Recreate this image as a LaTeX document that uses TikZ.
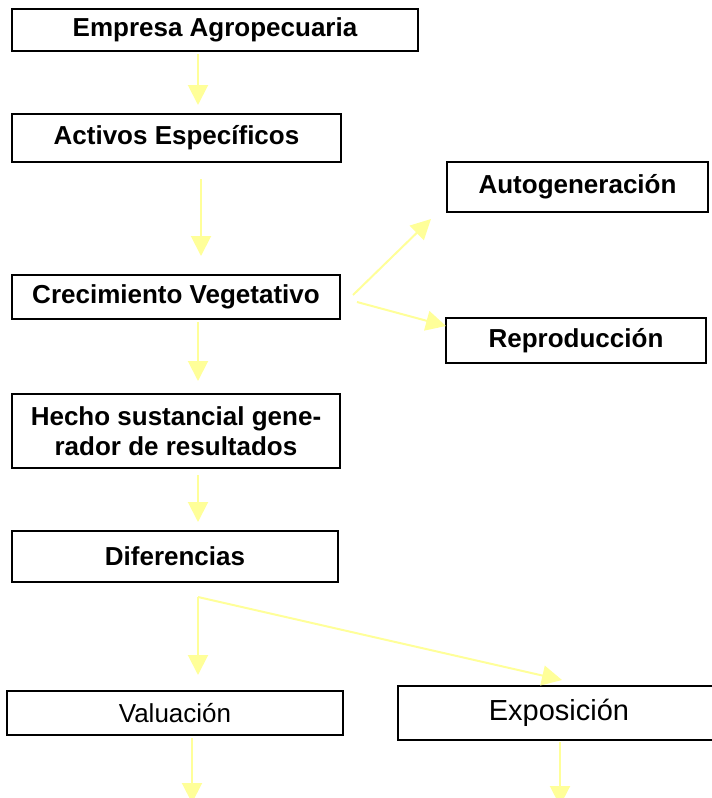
\documentclass[tikz,border=0pt]{standalone}
\usepackage{fontspec}
\setmainfont{Liberation Sans}
\usetikzlibrary{arrows.meta,positioning}
\definecolor{amarillo}{RGB}{255,255,153}

\begin{document}
\begin{tikzpicture}[x=0.5pt, y=-0.5pt,
		caja/.style={rectangle, draw, line width=1pt, inner sep=0pt, outer sep=0pt, minimum height=22pt, font=\fontsize{13}{15}\selectfont\bfseries, align=center, anchor=north west},
		cajan/.style={rectangle, draw, line width=0.8pt, inner sep=0pt, outer sep=0pt, minimum height=22pt, align=center, anchor=north west},
		flecha/.style={-{Triangle[length=10pt, width=10pt]}, line width=1pt, amarillo}]
		\clip (0,0) rectangle (712,798);
		\node[caja, minimum width=203pt, minimum height=21pt] (empresa) at (12,9) {Empresa Agropecuaria};
		\node[caja, minimum width=164.5pt, minimum height=24pt, below=31.5pt of empresa.south west, anchor=north west] (activos) {Activos Específicos};
		\node[caja, minimum width=164pt, minimum height=22pt, below=56.5pt of activos.south west, anchor=north west] (crec) {Crecimiento Vegetativo};
		\node[caja, minimum width=164pt, minimum height=37pt, below=37.5pt of crec.south west, anchor=north west] (hecho) {Hecho sustancial gene-\\rador de resultados};
		\node[caja, minimum width=163pt, minimum height=25.5pt, below=31.5pt of hecho.south west, anchor=north west] (dif) {Diferencias};
		\node[cajan, minimum width=168pt, minimum height=22pt, font=\fontsize{13}{15}\selectfont, below=54.5pt of dif.south west, anchor=north west, xshift=-2.5pt] (valua) {Valuación};
		\node[caja, minimum width=130.5pt, minimum height=25pt] (auto) at (447,162) {Autogeneración};
		\node[caja, minimum width=130pt, minimum height=22.5pt] (repro) at (446,318) {Reproducción};
		\node[cajan, minimum width=161pt, minimum height=27pt, font=\fontsize{14.5}{17}\selectfont] (expo) at (398,686) {Exposición};
		
		\coordinate (rama) at ([xshift=11.5pt, yshift=-7.5pt]dif.south);
		\coordinate (finvalua) at ([xshift=8.5pt, yshift=-34pt]valua.south);
		\coordinate (finexpo) at ([xshift=0.5pt, yshift=-33pt]expo.south);
		
		\draw[flecha] ([xshift=-8.5pt, yshift=-1.5pt]empresa.south) -- ([xshift=10.75pt, yshift=4.5pt]activos.north);
		\draw[flecha] ([xshift=12.25pt, yshift=-8.5pt]activos.south) -- ([xshift=12.5pt, yshift=9.5pt]crec.north);
		\draw[flecha] ([xshift=11pt, yshift=-1.5pt]crec.south) -- ([xshift=11pt, yshift=6.5pt]hecho.north);
		\draw[flecha] ([xshift=11pt, yshift=-3.5pt]hecho.south) -- ([xshift=11.5pt, yshift=4.5pt]dif.north);
		\draw[flecha] ([xshift=6.5pt, yshift=1pt]crec.east) -- ([xshift=-8pt, yshift=-3.5pt]auto.south west);
		\draw[flecha] ([xshift=8.5pt, yshift=-2.5pt]crec.east) -- ([yshift=-4pt]repro.north west);
		\draw[flecha] (rama) -- ([xshift=11.5pt, yshift=8pt]valua.north);
		\draw[flecha] (rama) -- ([xshift=1.5pt, yshift=3pt]expo.north);
		\draw[flecha] ([xshift=8.5pt, yshift=-1.5pt]valua.south) -- (finvalua);
		\draw[flecha] ([xshift=0.5pt, yshift=-1pt]expo.south) -- (finexpo);
	\end{tikzpicture}
\end{document}
